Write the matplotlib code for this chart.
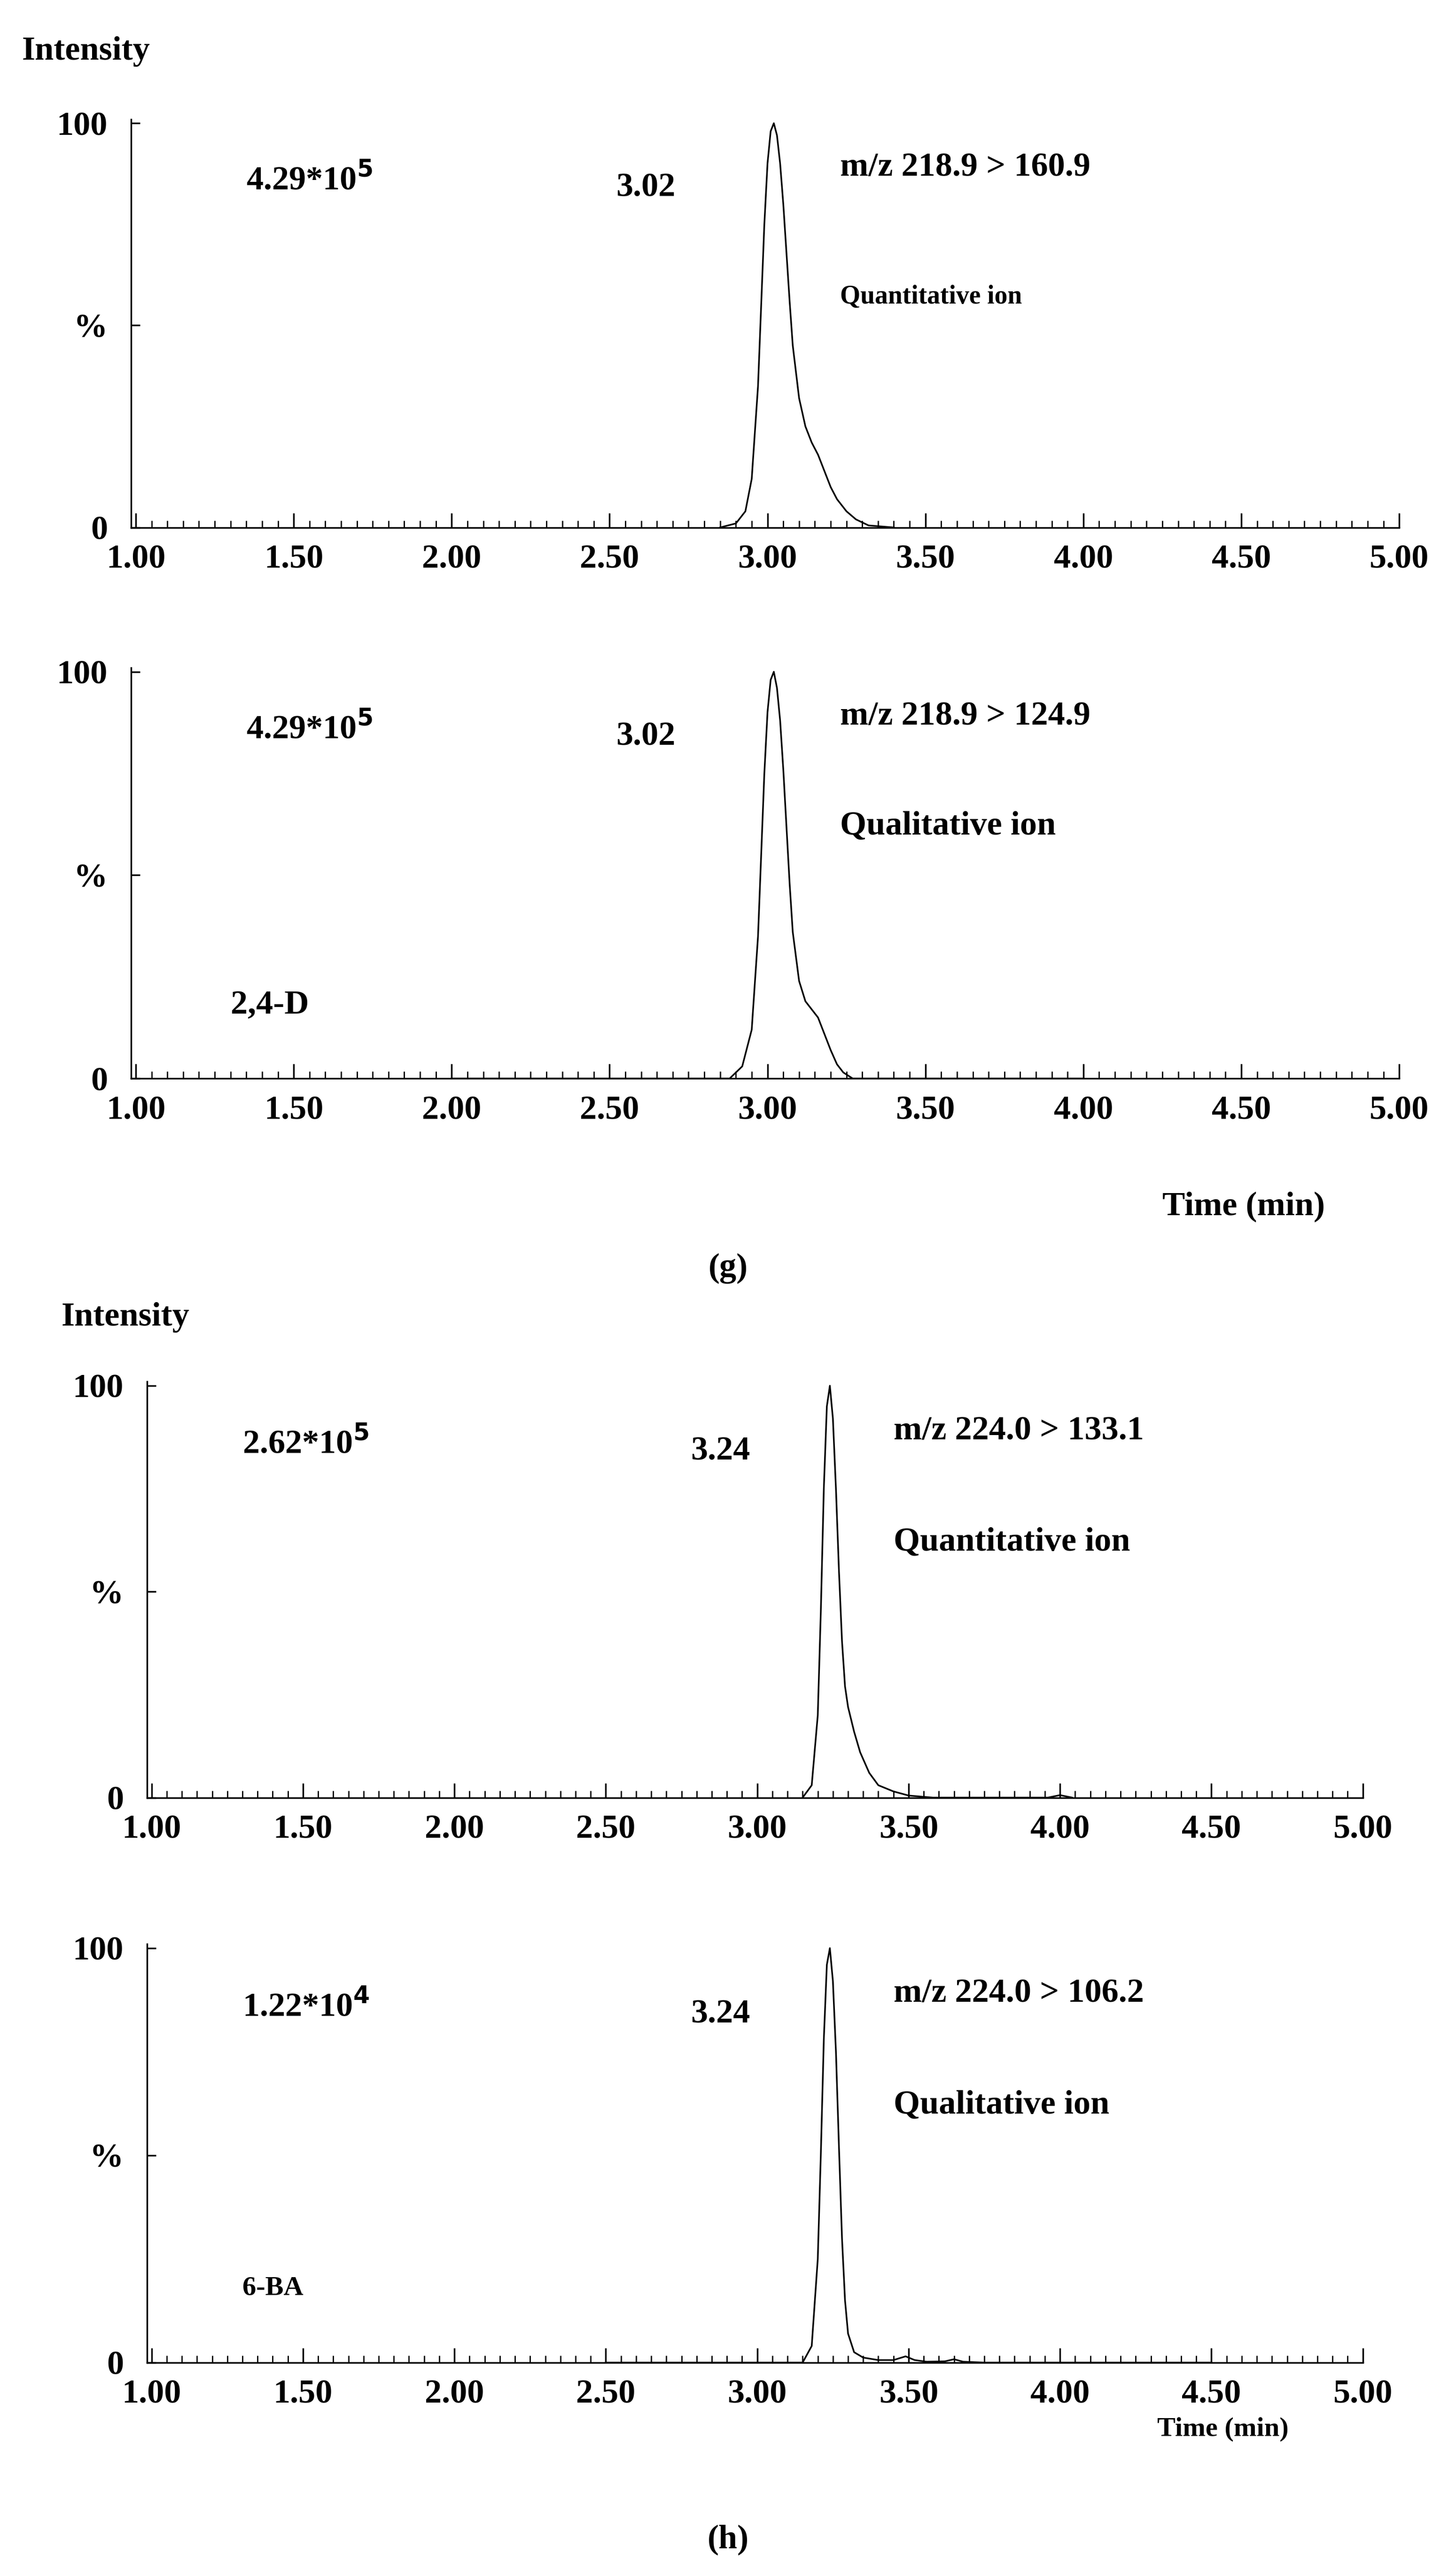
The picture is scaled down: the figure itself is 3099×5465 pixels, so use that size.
import matplotlib
matplotlib.use("Agg")
import matplotlib.pyplot as plt
from matplotlib.ticker import MultipleLocator

plt.rcParams['font.family'] = ['Liberation Serif', 'DejaVu Serif']
plt.rcParams['font.weight'] = 'bold'

t1 = [2.85, 2.90, 2.93, 2.95, 2.97, 2.98, 2.99, 3.00, 3.01, 3.02, 3.03, 3.04, 3.05, 3.06, 3.07, 3.08, 3.10, 3.12, 3.14, 3.16, 3.18, 3.20, 3.22, 3.25, 3.28, 3.32, 3.40]
i1 = [0, 1, 4, 12, 35, 55, 75, 90, 98, 100, 97, 90, 80, 68, 56, 45, 32, 25, 21, 18, 14, 10, 7, 4, 2, 0.5, 0]
t2 = [2.00, 2.88, 2.92, 2.95, 2.97, 2.98, 2.99, 3.00, 3.01, 3.02, 3.03, 3.04, 3.05, 3.06, 3.07, 3.08, 3.10, 3.12, 3.14, 3.16, 3.18, 3.20, 3.22, 3.24, 3.27, 4.00]
i2 = [0, 0, 3, 12, 35, 55, 75, 90, 98, 100, 96, 88, 76, 62, 48, 36, 24, 19, 17, 15, 11, 7, 3.5, 1.5, 0, 0]
t3 = [3.15, 3.18, 3.20, 3.21, 3.22, 3.23, 3.24, 3.25, 3.26, 3.27, 3.28, 3.29, 3.30, 3.31, 3.32, 3.34, 3.37, 3.40, 3.45, 3.50, 3.58, 3.96, 4.00, 4.04]
i3 = [0, 3, 20, 45, 75, 95, 100, 92, 75, 55, 38, 27, 22, 19, 16, 11, 6, 3, 1.5, 0.5, 0, 0, 0.6, 0]
t4 = [2.50, 3.15, 3.18, 3.20, 3.21, 3.22, 3.23, 3.24, 3.25, 3.26, 3.27, 3.28, 3.29, 3.30, 3.32, 3.35, 3.40, 3.45, 3.49, 3.52, 3.56, 3.62, 3.65, 3.68, 3.75, 4.50]
i4 = [0, 0, 4, 25, 50, 78, 96, 100, 92, 75, 52, 30, 15, 7, 2.5, 1.2, 0.6, 0.6, 1.5, 0.6, 0.2, 0.3, 0.8, 0.2, 0, 0]

panels = [
    dict(t=t1, i=i1, rect=[0.090, 0.7946, 0.871, 0.159], rt="3.02", inten="4.29*10$^{5}$",
         mz="m/z 218.9 > 160.9", ion="Quantitative ion", ionfs=40, name=None),
    dict(t=t2, i=i2, rect=[0.090, 0.580, 0.871, 0.160], rt="3.02", inten="4.29*10$^{5}$",
         mz="m/z 218.9 > 124.9", ion="Qualitative ion", ionfs=52, name="2,4-D"),
    dict(t=t3, i=i3, rect=[0.101, 0.300, 0.835, 0.162], rt="3.24", inten="2.62*10$^{5}$",
         mz="m/z 224.0 > 133.1", ion="Quantitative ion", ionfs=52, name=None),
    dict(t=t4, i=i4, rect=[0.101, 0.080, 0.835, 0.163], rt="3.24", inten="1.22*10$^{4}$",
         mz="m/z 224.0 > 106.2", ion="Qualitative ion", ionfs=52, name="6-BA"),
]
xticks = [1.0, 1.5, 2.0, 2.5, 3.0, 3.5, 4.0, 4.5, 5.0]
xlabels = ["1.00", "1.50", "2.00", "2.50", "3.00", "3.50", "4.00", "4.50", "5.00"]

fig = plt.figure(figsize=(30.99, 54.65), dpi=100)
for k, p in enumerate(panels):
    ax = fig.add_axes(p['rect'])
    ax.plot(p['t'], p['i'], color='black', lw=2.5)
    ax.set_xlim(0.985, 5.0)
    ax.set_ylim(0, 101)
    for s in ['top', 'right']:
        ax.spines[s].set_visible(False)
    for s in ['left', 'bottom']:
        ax.spines[s].set_linewidth(2.5)
    ax.set_xticks(xticks)
    ax.set_xticklabels(xlabels)
    ax.xaxis.set_minor_locator(MultipleLocator(0.05))
    ax.set_yticks([0, 50, 100])
    ax.set_yticklabels(["0", "%", "100"])
    ax.tick_params(axis='x', which='major', direction='in', length=22, width=2.5, labelsize=52, pad=26)
    ax.tick_params(axis='x', which='minor', direction='in', length=11, width=2)
    ax.tick_params(axis='y', direction='in', length=14, width=2.5, labelsize=52, pad=36)
    xi = 1.35 if k < 2 else 1.3
    ax.text(xi, 86, p['inten'], fontsize=52, fontweight='bold', ha='left', va='center')
    rtx = 2.52 if k < 2 else 2.78
    ax.text(rtx, 84, p['rt'], fontsize=52, fontweight='bold', ha='left', va='center')
    mzx = 3.23 if k < 2 else 3.45
    ax.text(mzx, 89, p['mz'], fontsize=52, fontweight='bold', ha='left', va='center')
    ax.text(mzx, 57 if k == 0 else 62, p['ion'], fontsize=p['ionfs'], fontweight='bold', ha='left', va='center')
    if p['name']:
        ax.text(1.3, 18, p['name'], fontsize=52 if k == 1 else 42, fontweight='bold', ha='left', va='center')

fig.text(0.015, 0.980, "Intensity", fontsize=52, fontweight='bold', ha='left', va='center')
fig.text(0.042, 0.487, "Intensity", fontsize=52, fontweight='bold', ha='left', va='center')
fig.text(0.854, 0.530, "Time (min)", fontsize=52, fontweight='bold', ha='center', va='center')
fig.text(0.84, 0.054, "Time (min)", fontsize=42, fontweight='bold', ha='center', va='center')
fig.text(0.50, 0.506, "(g)", fontsize=52, fontweight='bold', ha='center', va='center')
fig.text(0.50, 0.011, "(h)", fontsize=52, fontweight='bold', ha='center', va='center')

fig.savefig("out.png", dpi=100, facecolor='white')
